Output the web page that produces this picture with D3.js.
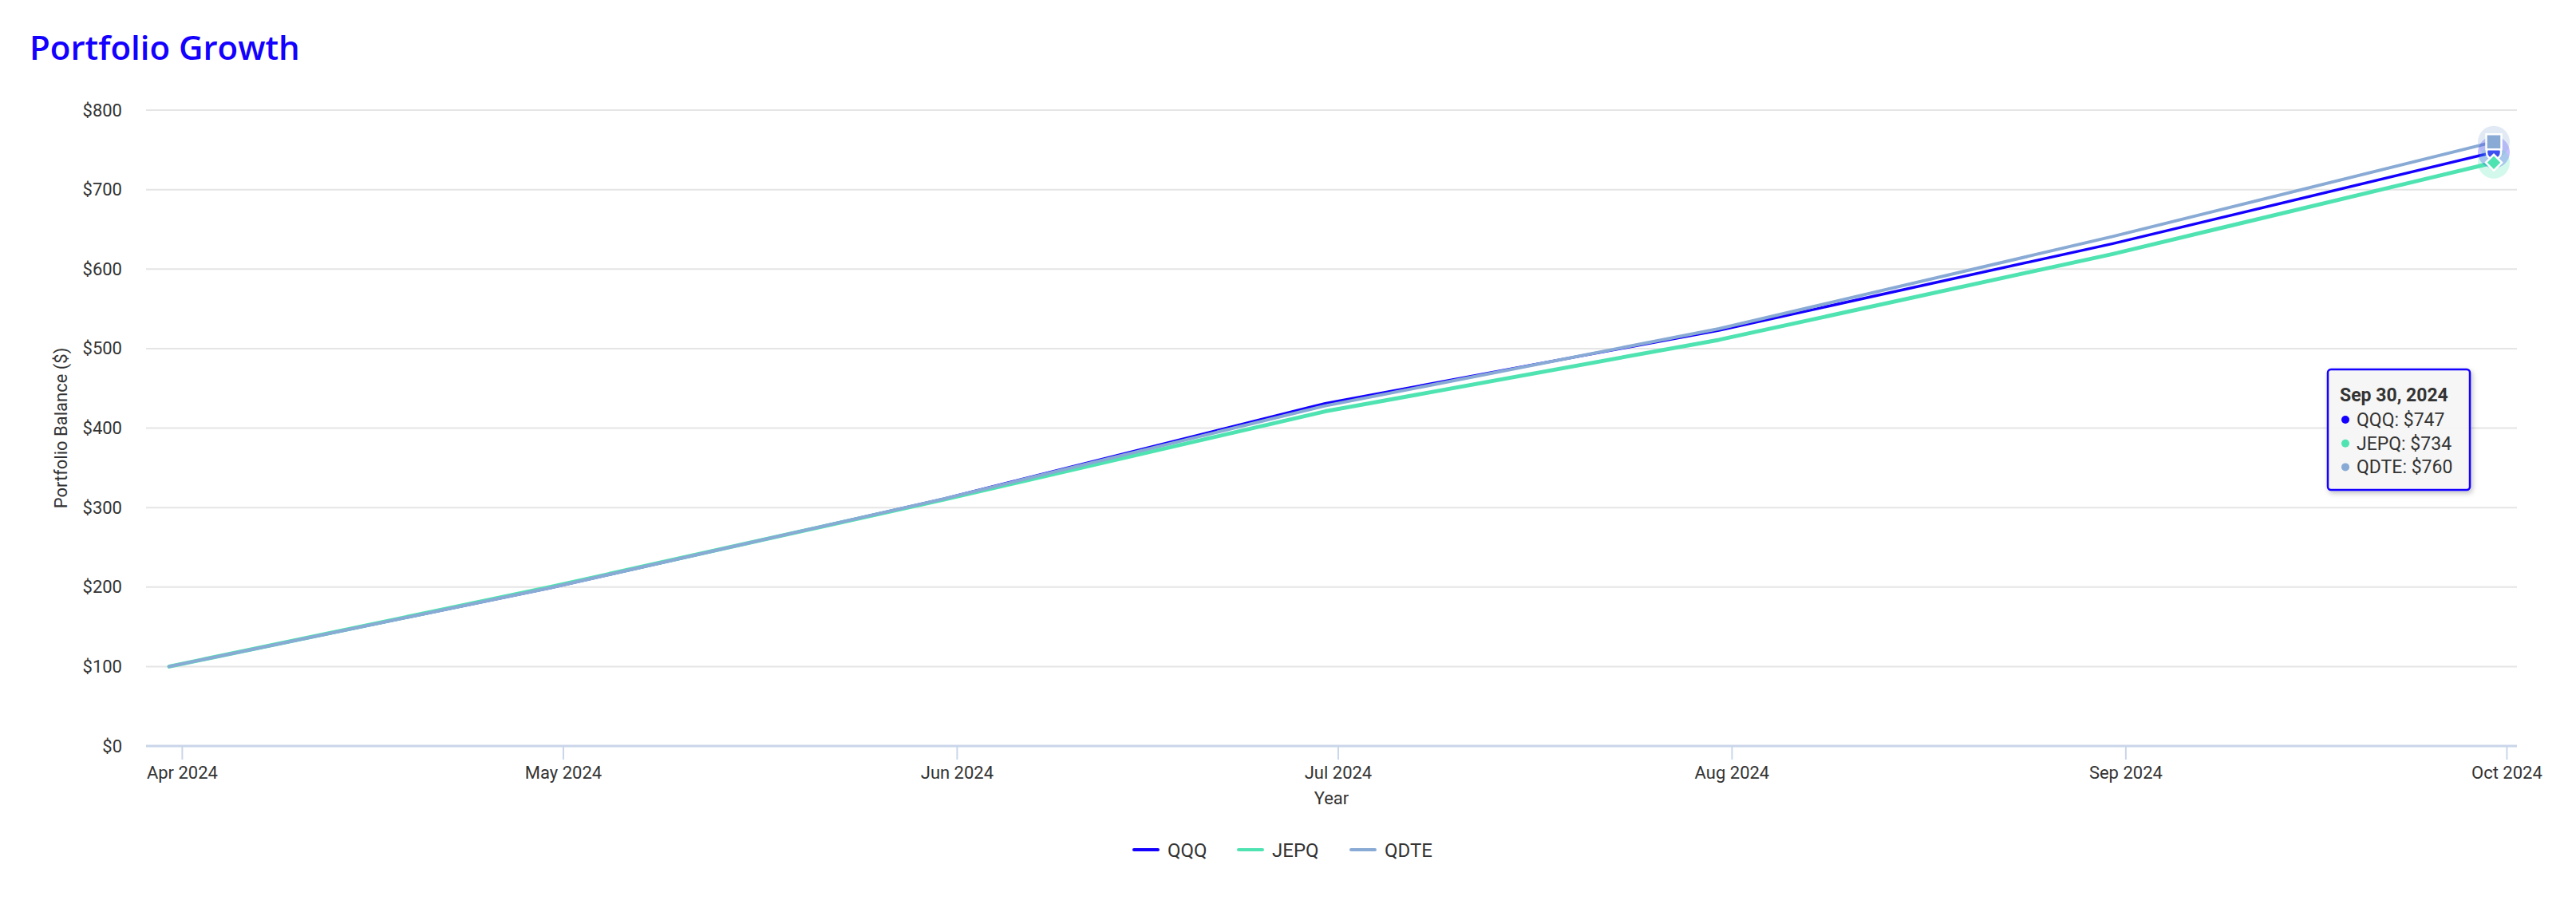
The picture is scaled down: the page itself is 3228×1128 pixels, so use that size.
<!DOCTYPE html>
<html>
<head>
<meta charset="utf-8">
<script src="https://cdn.jsdelivr.net/npm/d3@7"></script>
<style>
  html, body { margin: 0; padding: 0; background: #ffffff; }
  svg { display: block; }
  text { font-family: Roboto, "Noto Sans", sans-serif; }
</style>
</head>
<body>
<svg id="chart" width="3228" height="1128"></svg>
<script>
// ---------- data ----------
const dates = ["2024-03-31", "2024-04-30", "2024-05-31", "2024-06-30", "2024-07-31", "2024-08-31", "2024-09-30"];
const qqq   = [100, 199, 311, 431, 523, 632, 747];
const jepq  = [100, 200, 310, 421, 511, 619, 734];
const qdte  = [100, 199, 311, 428, 525, 641, 760];
const seriesNames = ["QQQ", "JEPQ", "QDTE"];
const seriesColors = ["#1400ff", "#50e3b2", "#88aad4"];
const yTickValues = [0, 100, 200, 300, 400, 500, 600, 700, 800];
const xTickDates = ["2024-04-01", "2024-05-01", "2024-06-01", "2024-07-01", "2024-08-01", "2024-09-01", "2024-10-01"];
const tooltipTitle = "Sep 30, 2024";

// ---------- setup ----------
const parse = d3.timeParse("%Y-%m-%d");
const svg = d3.select("#chart");

const plotLeft = 183, plotRight = 3154, plotTop = 138, plotBottom = 935;

const x = d3.scaleTime()
  .domain([parse(dates[0]), parse(dates[dates.length - 1])])
  .range([212, 3125]);
const y = d3.scaleLinear().domain([0, 800]).range([plotBottom, plotTop]);

const series = [qqq, jepq, qdte].map((vals, i) => ({
  name: seriesNames[i],
  color: seriesColors[i],
  values: vals.map((v, j) => ({ date: parse(dates[j]), value: v }))
}));

// defs
const defs = svg.append("defs");
const f = defs.append("filter").attr("id", "shadow").attr("x", "-20%").attr("y", "-20%").attr("width", "140%").attr("height", "150%");
f.append("feDropShadow").attr("dx", 2).attr("dy", 3).attr("stdDeviation", 3).attr("flood-color", "#000").attr("flood-opacity", 0.25);

// title
svg.append("text")
  .attr("x", 37).attr("y", 75)
  .style("font-family", "'Open Sans', sans-serif")
  .style("font-weight", 600)
  .style("font-size", "42px")
  .attr("fill", "#1400ff")
  .text("Portfolio Growth");

// gridlines
svg.append("g").selectAll("line")
  .data(yTickValues.filter(v => v !== 0))
  .join("line")
  .attr("x1", plotLeft).attr("x2", plotRight)
  .attr("y1", d => y(d)).attr("y2", d => y(d))
  .attr("stroke", "#e5e5e5").attr("stroke-width", 2);

// y axis
const yAxis = d3.axisLeft(y).tickValues(yTickValues).tickSize(0).tickPadding(0)
  .tickFormat(d => "$" + d);
const gy = svg.append("g").attr("transform", `translate(153,0)`).call(yAxis);
gy.select(".domain").remove();
gy.selectAll("text").style("font-size", "22px").attr("fill", "#333");

// x axis
const xAxis = d3.axisBottom(x).tickValues(xTickDates.map(parse)).tickSize(17).tickPadding(8)
  .tickFormat(d3.timeFormat("%b %Y"));
const gx = svg.append("g").attr("transform", `translate(0,${plotBottom})`).call(xAxis);
gx.select(".domain").remove();
gx.selectAll(".tick line").attr("stroke", "#c9d6ea").attr("stroke-width", 2);
gx.selectAll("text").style("font-size", "22px").attr("fill", "#333");
svg.append("line")
  .attr("x1", plotLeft).attr("x2", plotRight)
  .attr("y1", plotBottom).attr("y2", plotBottom)
  .attr("stroke", "#c9d6ea").attr("stroke-width", 3);

// axis titles
svg.append("text")
  .attr("x", (plotLeft + plotRight) / 2).attr("y", 1008)
  .attr("text-anchor", "middle")
  .style("font-size", "22px").attr("fill", "#333")
  .text("Year");
svg.append("text")
  .attr("transform", `translate(84,${(plotTop + plotBottom) / 2}) rotate(-90)`)
  .attr("text-anchor", "middle")
  .style("font-size", "22px").attr("fill", "#333")
  .text("Portfolio Balance ($)");

// lines
const line = d3.line().x(d => x(d.date)).y(d => y(d.value));
const widths = [3.5, 5, 4];
svg.append("g").selectAll("path")
  .data(series)
  .join("path")
  .attr("d", d => line(d.values))
  .attr("fill", "none")
  .attr("stroke", d => d.color)
  .attr("stroke-width", (d, i) => widths[i])
  .attr("stroke-linejoin", "round")
  .attr("stroke-linecap", "round");

// active markers at last point
const last = series.map(s => ({ ...s, p: s.values[s.values.length - 1] }));
const mk = svg.append("g");
mk.selectAll("circle.halo").data(last).join("circle")
  .attr("class", "halo")
  .attr("cx", d => x(d.p.date)).attr("cy", d => y(d.p.value))
  .attr("r", 20).attr("fill", d => d.color).attr("fill-opacity", 0.25);
const symbols = [d3.symbolCircle, d3.symbolSquare, d3.symbolSquare];
const sizes = [260, 200, 361];
const rots = [0, 45, 0];
[0, 1, 2].forEach(i => {
  const d = last[i];
  mk.append("path")
    .attr("d", d3.symbol().type(symbols[i]).size(sizes[i])())
    .attr("transform", `translate(${x(d.p.date)},${y(d.p.value)}) rotate(${rots[i]})`)
    .attr("fill", i === 0 ? "#3d4ff0" : d.color)
    .attr("stroke", "#fff").attr("stroke-width", 2.5);
});

// tooltip
const tt = svg.append("g").attr("transform", "translate(2917,463)");
tt.append("rect")
  .attr("width", 178).attr("height", 151).attr("rx", 4)
  .attr("fill", "#f7f7f7").attr("fill-opacity", 0.92)
  .attr("stroke", "#1400ff").attr("stroke-width", 2.5)
  .attr("filter", "url(#shadow)");
tt.append("text")
  .attr("x", 15).attr("y", 40)
  .style("font-size", "23px").style("font-weight", 700).attr("fill", "#333")
  .text(tooltipTitle);
last.forEach((d, i) => {
  const yy = 71 + i * 29.7;
  tt.append("circle").attr("cx", 22).attr("cy", yy - 8).attr("r", 5).attr("fill", d.color);
  tt.append("text")
    .attr("x", 36).attr("y", yy)
    .style("font-size", "23px").attr("fill", "#333")
    .text(`${d.name}: $${d.p.value}`);
});

// legend
const legendX = [1421, 1552, 1693];
const lg = svg.append("g");
series.forEach((s, i) => {
  const g = lg.append("g").attr("transform", `translate(${legendX[i]},1065)`);
  g.append("line").attr("x1", 0).attr("x2", 30).attr("y1", 0).attr("y2", 0)
    .attr("stroke", s.color).attr("stroke-width", 4).attr("stroke-linecap", "round");
  g.append("text").attr("x", 42).attr("y", 9)
    .style("font-size", "24px").attr("fill", "#333").text(s.name);
});
</script>
</body>
</html>
